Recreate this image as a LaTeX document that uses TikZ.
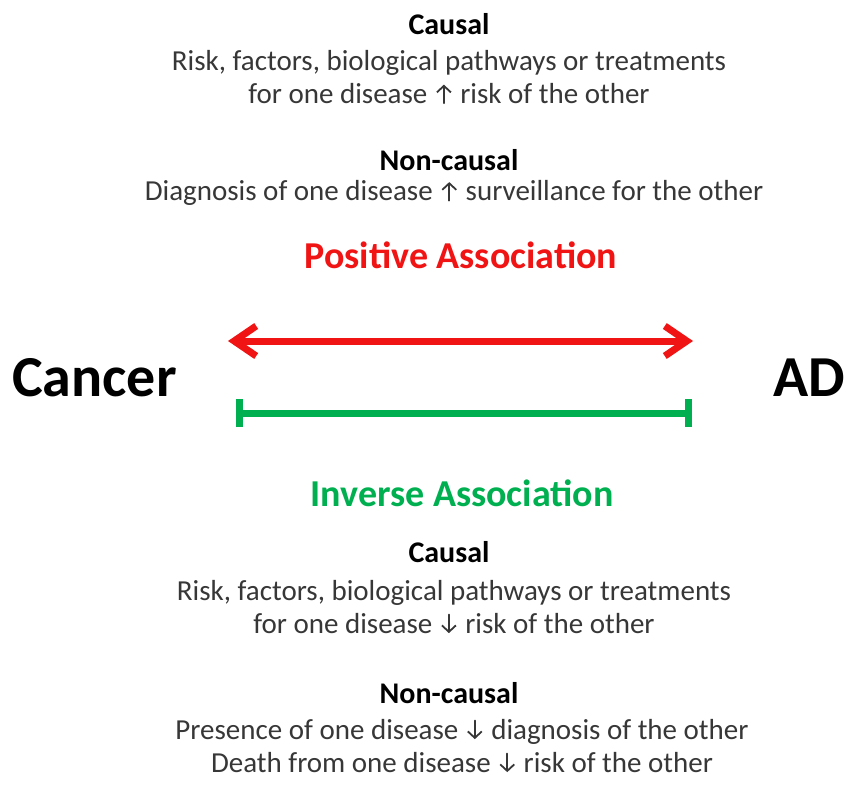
\documentclass[tikz,border=0pt]{standalone}
\usepackage{fontspec}
\setmainfont{Carlito}
\usetikzlibrary{arrows.meta}
\definecolor{bodygray}{RGB}{55,55,55}
\definecolor{posred}{RGB}{240,20,20}
\definecolor{invgreen}{RGB}{0,176,80}
\tikzset{
  txtarrow/.style={draw=bodygray, line width=1.8pt, line cap=round, -{Straight Barb[length=6.5pt,width=14pt,line width=1.8pt]}},
  body/.style={font=\fontsize{29}{33}\selectfont, text=bodygray, align=center, inner sep=0pt},
  head/.style={font=\fontsize{30}{34}\selectfont\bfseries, text=black, inner sep=0pt},
  assoc/.style={font=\fontsize{38}{42}\selectfont\bfseries, inner sep=0pt},
  big/.style={font=\fontsize{58}{62}\selectfont\bfseries, text=black, inner sep=0pt},
  posline/.style={line width=7pt, draw=posred, {Straight Barb[length=22pt,width=30pt,line width=7pt]}-{Straight Barb[length=22pt,width=30pt,line width=7pt]}},
  invline/.style={line width=7pt, draw=invgreen, {Bar[width=28pt]}-{Bar[width=28pt]}}
}
\newcommand{\myup}{\hspace{2pt}\tikz[baseline=0pt]\draw[txtarrow] (0pt,0pt) -- (0pt,18.5pt);\hspace{2pt}}
\newcommand{\mydown}{\hspace{2pt}\tikz[baseline=0pt]\draw[txtarrow] (0pt,18.5pt) -- (0pt,0pt);\hspace{2pt}}
\begin{document}
\begin{tikzpicture}[x=1pt,y=-1pt]
\useasboundingbox (0,0) rectangle (848,785);
\node[head] (c1) at (449,24) {Causal};
\node[body] (c1t) at (449,77) {Risk, factors, biological pathways or treatments\\for one disease \myup{} risk of the other};
\node[head] (n1) at (449,160) {Non-causal};
\node[body] (n1t) at (454,193) {Diagnosis of one disease \myup{} surveillance for the other};
\node[assoc, text=posred] (pos) at (461,255) {Positive Association};
\node[big, anchor=west] (cancer) at (12,378) {Cancer};
\node[big, anchor=east] (ad) at (845,378) {AD};
\coordinate (pl) at (228,341);
\coordinate (pr) at (693,341);
\coordinate (il) at (236,413);
\coordinate (ir) at (692,413);
\draw[posline] (pl) -- (pr);
\draw[invline] (il) -- (ir);
\node[assoc, text=invgreen] (inv) at (462,493) {Inverse Association};
\node[head] (c2) at (449,552) {Causal};
\node[body] (c2t) at (454,607) {Risk, factors, biological pathways or treatments\\for one disease \mydown{} risk of the other};
\node[head] (n2) at (449,693) {Non-causal};
\node[body] (n2t) at (462,746) {Presence of one disease \mydown{} diagnosis of the other\\Death from one disease \mydown{} risk of the other};
\end{tikzpicture}
\end{document}
